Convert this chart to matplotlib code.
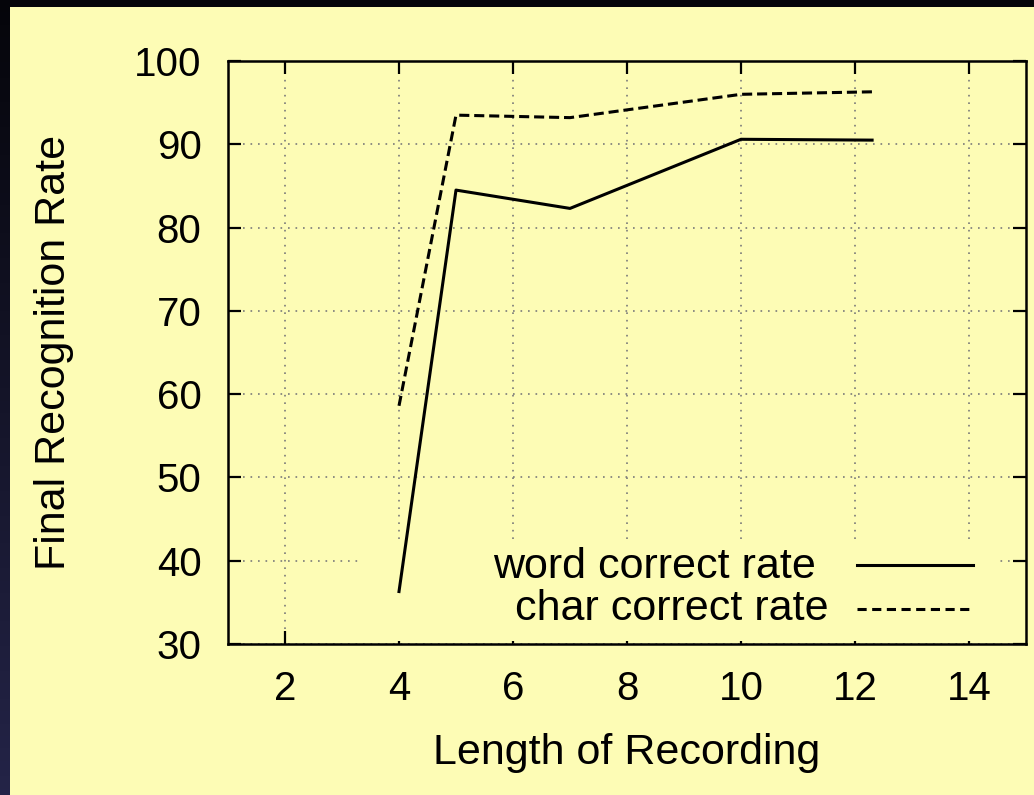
import numpy as np
import matplotlib
matplotlib.use("Agg")
import matplotlib.pyplot as plt
from matplotlib.patches import Rectangle

# data
x_word = [4, 5, 7, 10, 12.3]
word_rate = [36.3, 84.5, 82.3, 90.6, 90.5]
x_char = [4, 5, 7, 10, 12.3]
char_rate = [58.6, 93.5, 93.2, 96.0, 96.3]
xticks = [2, 4, 6, 8, 10, 12, 14]
yticks = [30, 40, 50, 60, 70, 80, 90, 100]
labels = ["word correct rate", "char correct rate"]

YEL = "#fdfcb5"
plt.rcParams['font.family'] = ['Liberation Sans', 'DejaVu Sans']

W, H = 1034, 795
fig = plt.figure(figsize=(W / 100, H / 100), dpi=100, facecolor="black")

# background gradient
bg = fig.add_axes([0, 0, 1, 1], zorder=-10)
bg.axis("off")
grad = np.linspace(0, 1, 256)[:, None]
rgb = np.zeros((256, 1, 3))
rgb[:, 0, 0] = 0.02 + 0.12 * grad[:, 0]
rgb[:, 0, 1] = 0.02 + 0.12 * grad[:, 0]
rgb[:, 0, 2] = 0.04 + 0.24 * grad[:, 0]
bg.imshow(rgb, aspect="auto", extent=[0, 1, 0, 1], origin="upper")
bg.set_xlim(0, 1); bg.set_ylim(0, 1)
bg.add_patch(Rectangle((10 / W, 0), 1, (H - 7) / H, facecolor=YEL, edgecolor="none"))

ax = fig.add_axes([228 / W, (H - 644) / H, (1026 - 228) / W, (644 - 61) / H])
ax.set_facecolor(YEL)

ax.plot(x_word, word_rate, color="black", lw=2.2, zorder=3)
ax.plot(x_char, char_rate, color="black", lw=2.2, dashes=(3.3, 1.6), zorder=3)

ax.set_xlim(1, 15)
ax.set_ylim(30, 100)
ax.set_xticks(xticks)
ax.set_yticks(yticks)
ax.grid(True, color="#7a7a7a", linestyle=(0, (1, 3.5)), lw=1.2, zorder=1)
for s in ax.spines.values():
    s.set_linewidth(1.8)
    s.set_zorder(5)
ax.tick_params(direction="in", length=9.5, width=1.6, top=True, right=True,
               labelsize=29, pad=19)
ax.tick_params(axis="y", pad=19)
ax.set_xlabel("Length of Recording", fontsize=31, labelpad=18)
ax.set_ylabel("Final Recognition Rate", fontsize=31, labelpad=43)

# legend (gnuplot style: label then sample, background box hiding grid)
ax.add_patch(Rectangle(((360 - 228) / (1026 - 228), 0.005),
                       (1000 - 360) / (1026 - 228), (644 - 543) / (644 - 61) - 0.005,
                       transform=ax.transAxes, facecolor=YEL, edgecolor="none", zorder=2))

def fx(px):
    return (px - 228) / (1026 - 228)

def fy(py):
    return (644 - py) / (644 - 61)

ax.text(fx(816), fy(567), labels[0], fontsize=31, ha="right", va="center",
        transform=ax.transAxes, zorder=4)
ax.text(fx(829), fy(609), labels[1], fontsize=31, ha="right", va="center",
        transform=ax.transAxes, zorder=4)
ax.plot([fx(857), fx(973)], [fy(565), fy(565)], color="black", lw=2.2,
        transform=ax.transAxes, zorder=4)
ax.plot([fx(857), fx(973)], [fy(609), fy(609)], color="black", lw=2.2,
        dashes=(3.0, 1.8), transform=ax.transAxes, zorder=4)

fig.savefig("out.png", dpi=100, facecolor=fig.get_facecolor())
